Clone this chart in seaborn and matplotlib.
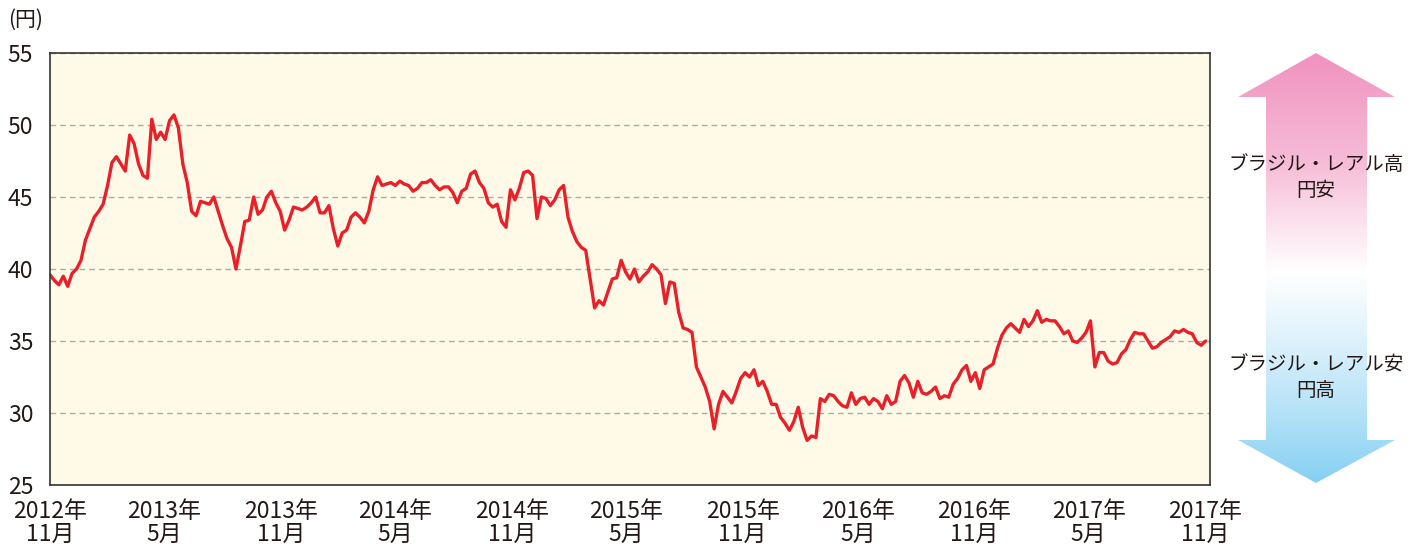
import numpy as np
import pandas as pd
import seaborn as sns
import matplotlib.pyplot as plt
from matplotlib.patches import Polygon

sns.set_style('white')
plt.rcParams['font.family'] = ['Noto Sans CJK JP', 'DejaVu Sans']

# yen per Brazilian real, weekly readings from 2012-11 onward
rate_1 = [39.6, 39.2, 38.9, 39.5, 38.8, 39.7, 40.0, 40.6, 42.0, 42.8, 43.6, 44.0, 44.5,
          45.8, 47.4, 47.8, 47.3, 46.8, 49.3, 48.7, 47.3, 46.5, 46.3, 50.4, 49.0, 49.5,
          49.0, 50.3, 50.7, 49.8, 47.3, 46.0, 44.0, 43.7, 44.7, 44.6, 44.5, 45.0, 44.0,
          43.0, 42.1, 41.5, 40.0, 41.6, 43.3, 43.4, 45.0, 43.8, 44.1, 45.0, 45.4, 44.6]
rate_2 = [44.0, 42.7, 43.4, 44.3, 44.2, 44.1, 44.3, 44.6, 45.0, 43.9, 43.9, 44.4, 42.8,
          41.6, 42.5, 42.7, 43.6, 43.9, 43.6, 43.2, 44.0, 45.5, 46.4, 45.8, 45.9, 46.0,
          45.8, 46.1, 45.9, 45.8, 45.4, 45.6, 46.0, 46.0, 46.2, 45.8, 45.5, 45.7, 45.7,
          45.3, 44.6, 45.4, 45.6, 46.6, 46.8, 46.0, 45.6, 44.6, 44.3, 44.5, 43.3, 42.9]
rate_3 = [45.5, 44.8, 45.6, 46.7, 46.8, 46.5, 43.5, 45.0, 44.9, 44.4, 44.8, 45.5, 45.8,
          43.6, 42.6, 41.9, 41.5, 41.3, 39.3, 37.3, 37.8, 37.5, 38.4, 39.3, 39.4, 40.6,
          39.8, 39.3, 40.0, 39.1, 39.5, 39.8, 40.3, 40.0, 39.6, 37.6, 39.1, 39.0, 37.0,
          35.9, 35.8, 35.6, 33.2, 32.5, 31.8, 30.8, 28.9, 30.6, 31.5, 31.1, 30.7, 31.5]
rate_4 = [32.4, 32.8, 32.5, 33.0, 31.9, 32.2, 31.5, 30.6, 30.6, 29.7, 29.3, 28.8, 29.4,
          30.4, 29.0, 28.1, 28.4, 28.3, 31.0, 30.8, 31.3, 31.2, 30.8, 30.5, 30.4, 31.4,
          30.6, 31.0, 31.1, 30.6, 31.0, 30.8, 30.3, 31.2, 30.6, 30.8, 32.2, 32.6, 32.1,
          31.1, 32.2, 31.4, 31.3, 31.5, 31.8, 31.0, 31.2, 31.1, 32.0, 32.4, 33.0, 33.3]
rate_5 = [32.2, 32.8, 31.7, 33.0, 33.2, 33.4, 34.5, 35.4, 35.9, 36.2, 35.9, 35.6, 36.5,
          36.0, 36.4, 37.1, 36.3, 36.5, 36.4, 36.4, 36.0, 35.5, 35.7, 35.0, 34.9, 35.2,
          35.6, 36.4, 33.2, 34.2, 34.2, 33.6, 33.4, 33.5, 34.1, 34.4, 35.1, 35.6, 35.5,
          35.5, 35.0, 34.5, 34.6, 34.9, 35.1, 35.3, 35.7, 35.6, 35.8, 35.6, 35.5, 34.9,
          34.7, 35.0]

rate = rate_1 + rate_2 + rate_3 + rate_4 + rate_5
dates = pd.date_range('2012-11-01', periods=len(rate), freq='7D')

tick_dates = pd.date_range('2012-11-01', periods=11, freq='6MS')
tick_labels = ['2012年\n11月', '2013年\n5月', '2013年\n11月', '2014年\n5月', '2014年\n11月',
               '2015年\n5月', '2015年\n11月', '2016年\n5月', '2016年\n11月', '2017年\n5月',
               '2017年\n11月']
y_ticks = [25, 30, 35, 40, 45, 50, 55]

W, H = 1419, 544
fig = plt.figure(figsize=(W / 100, H / 100), dpi=100)
ax = fig.add_axes([50 / W, 1 - 485 / H, 1160 / W, 432 / H])

df = pd.DataFrame({'date': dates, 'rate': rate})
sns.lineplot(data=df, x='date', y='rate', color='#E8202A', linewidth=2.4, ax=ax)

ax.set_facecolor('#FEFAE7')
ax.set_ylim(25, 55)
ax.set_xlim(pd.Timestamp('2012-11-01'), pd.Timestamp('2017-11-09'))
ax.set_yticks(y_ticks)
ax.yaxis.grid(True, linestyle=(0, (4, 3)), color='#AAAAAA', linewidth=1)
ax.xaxis.grid(False)
ax.set_xticks(tick_dates)
ax.set_xticklabels(tick_labels, linespacing=1.0)
ax.tick_params(axis='x', direction='in', length=5, width=1, color='#333333',
               labelsize=16.5, labelcolor='#231815', pad=11)
ax.tick_params(axis='y', length=0, labelsize=16.5, labelcolor='#231815', pad=12)
for s in ax.spines.values():
    s.set_color('#333333')
    s.set_linewidth(1.2)
ax.set_xlabel('')
ax.set_ylabel('')

fig.text(8 / W, 1 - 20 / H, '(円)', fontsize=15, color='#231815', va='center', ha='left')

# gradient double arrow on the right
ax2 = fig.add_axes([1228 / W, 1 - 492 / H, 180 / W, 448 / H])
ax2.set_xlim(1228, 1408)
ax2.set_ylim(492, 44)
ax2.axis('off')
stops_y = [53, 160, 230, 272, 330, 420, 483]
stops_c = ['#F092BF', '#F6BBD6', '#FCE6F0', '#FFFFFF', '#E3F4FC', '#B0E0F7', '#86D0F2']
rgb = np.array([plt.matplotlib.colors.to_rgb(c) for c in stops_c])
yy = np.linspace(53, 483, 300)
grad = np.stack([np.interp(yy, stops_y, rgb[:, i]) for i in range(3)], axis=-1)[:, None, :]
im = ax2.imshow(grad, extent=[1238, 1395, 483, 53], aspect='auto')
arrow = Polygon([(1316, 53), (1395, 97), (1367, 97), (1367, 440), (1395, 440), (1316, 483),
                 (1238, 440), (1266, 440), (1266, 97), (1238, 97)],
                closed=True, facecolor='none', edgecolor='none', transform=ax2.transData)
ax2.add_patch(arrow)
im.set_clip_path(arrow)
for y, t in [(164, 'ブラジル・レアル高'), (191, '円安'), (365, 'ブラジル・レアル安'), (391, '円高')]:
    ax2.text(1316, y, t, ha='center', va='center', fontsize=14, color='#231815')

fig.savefig('out.png', dpi=100)
